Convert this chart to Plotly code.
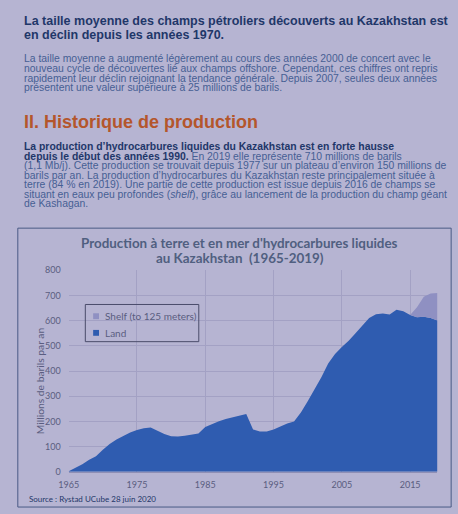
import plotly.graph_objects as go

W, H = 458, 514

years = list(range(1965, 2020))
land = [2, 15, 30, 48, 62, 88, 110, 128, 143, 156,
        166, 173, 176, 162, 150, 141, 140, 143, 147, 152,
        178, 190, 201, 210, 216, 224, 229, 168, 160, 160,
        168, 180, 192, 200, 235, 280, 325, 375, 430, 468,
        495, 520, 550, 580, 610, 625, 628, 624, 643, 637,
        622, 613, 615, 610, 600]
shelf = [0] * 51 + [40, 80, 98, 110]
x_ticks = [1965, 1975, 1985, 1995, 2005, 2015]

# text lines: list of segments (text, bold, italic)
title_lines = [[("La taille moyenne des champs pétroliers découverts au Kazakhstan est", 1, 0)],
               [("en déclin depuis les années 1970.", 1, 0)]]
para1_lines = [
    [("La taille moyenne a augmenté légèrement au cours des années 2000 de concert avec le", 0, 0)],
    [("nouveau cycle de découvertes lié aux champs offshore. Cependant, ces chiffres ont repris", 0, 0)],
    [("rapidement leur déclin rejoignant la tendance générale. Depuis 2007, seules deux années", 0, 0)],
    [("présentent une valeur supérieure à 25 millions de barils.", 0, 0)],
]
heading = "II. Historique de production"
para2_lines = [
    [("La production d’hydrocarbures liquides du Kazakhstan est en forte hausse", 1, 0)],
    [("depuis le début des années 1990.", 1, 0), (" En 2019 elle représente 710 millions de barils", 0, 0)],
    [("(1,1 Mb/j). Cette production se trouvait depuis 1977 sur un plateau d’environ 150 millions de", 0, 0)],
    [("barils par an. La production d’hydrocarbures du Kazakhstan reste principalement située à", 0, 0)],
    [("terre (84 % en 2019). Une partie de cette production est issue depuis 2016 de champs se", 0, 0)],
    [("situant en eaux peu profondes (", 0, 0), ("shelf", 0, 1),
     ("), grâce au lancement de la production du champ géant", 0, 0)],
    [("de Kashagan.", 0, 0)],
]
chart_title = ["Production à terre et en mer d'hydrocarbures liquides",
               "au Kazakhstan  (1965-2019)"]
y_title = "Millions de barils par an"
source = "Source : Rystad UCube 28 juin 2020"
legend_names = ["Shelf (to 125 meters)", "Land"]

BG = "#b6b4d2"
LAND = "#2f5cb0"
SHELF = "#8f90c2"
NAVY = "#1f3769"
BODY = "#465f94"
GREY = "#5a5d80"
BODYFONT = "Liberation Sans, Arial, sans-serif"
CHARTFONT = "Lato, sans-serif"

# Arial/Helvetica advance widths (1/1000 em) used to keep lines inside the page
REG = dict(zip("abcdefghijklmnopqrstuvwxyz",
               [556, 556, 500, 556, 556, 278, 556, 556, 222, 222, 500, 222, 833,
                556, 556, 556, 556, 333, 500, 278, 556, 500, 722, 500, 500, 500]))
REG.update(zip("ABCDEFGHIJKLMNOPQRSTUVWXYZ",
               [667, 667, 722, 722, 667, 611, 778, 722, 278, 500, 667, 556, 833,
                722, 778, 667, 778, 722, 667, 611, 722, 667, 944, 667, 667, 611]))
BLD = dict(zip("abcdefghijklmnopqrstuvwxyz",
               [556, 611, 556, 611, 556, 333, 611, 611, 278, 278, 556, 278, 889,
                611, 611, 611, 611, 389, 556, 333, 611, 556, 778, 556, 556, 500]))
BLD.update(zip("ABCDEFGHIJKLMNOPQRSTUVWXYZ",
               [722, 722, 722, 722, 667, 611, 778, 722, 278, 556, 722, 611, 833,
                722, 778, 667, 778, 722, 667, 611, 722, 667, 944, 667, 667, 611]))
for tbl, apo in ((REG, 222), (BLD, 278)):
    for d in "0123456789":
        tbl[d] = 556
    tbl.update({" ": 278, ".": 278, ",": 278, "(": 333, ")": 333, "’": apo,
                "%": 889, "/": 278, "-": 333})
ACC = {"é": "e", "è": "e", "ê": "e", "à": "a", "â": "a", "ç": "c"}


def line_em(segs):
    tot = 0
    for t, b, i in segs:
        tbl = BLD if b else REG
        tot += sum(tbl.get(ACC.get(c, c), 556) for c in t)
    return tot / 1000.0


def px(x):
    return x / W


def py(y):
    return 1 - y / H


ann = []


def add_block(lines, x0, x1, ys, base, color_reg, color_bold):
    for segs, y in zip(lines, ys):
        size = min(base, (x1 - x0) / line_em(segs))
        html = ""
        for t, b, it in segs:
            s = t
            if b:
                s = "<span style='fill:%s'>%s</span>" % (color_bold, s)
            if it:
                s = "<i>" + s + "</i>"
            if b:
                s = "<b>" + s + "</b>"
            html += s
        ann.append(dict(x=px(x0), y=py(y), text=html, align="left",
                        font=dict(family=BODYFONT, size=round(size, 2), color=color_reg)))


add_block(title_lines, 12, 446, [15, 29.3], 12.5, NAVY, NAVY)
add_block(para1_lines, 12, 442, [53.3, 63.5, 73.8, 83.5], 10.4, BODY, NAVY)
add_block([[(heading, 1, 0)]], 12, 260, [118.3], 18, "#b4562c", "#b4562c")
add_block(para2_lines, 12, 446, [143.3, 153.3, 163.2, 172.9, 182.7, 192.6, 202], 10.4, BODY, NAVY)

fig = go.Figure()
fig.add_trace(go.Scatter(x=years, y=land, mode="lines", stackgroup="one",
                         line=dict(width=0, color=LAND), fillcolor=LAND,
                         name=legend_names[1], showlegend=False, hoverinfo="skip"))
fig.add_trace(go.Scatter(x=years, y=shelf, mode="lines", stackgroup="one",
                         line=dict(width=0, color=SHELF), fillcolor=SHELF,
                         name=legend_names[0], showlegend=False, hoverinfo="skip"))

for i, t in enumerate(chart_title):
    ann.append(dict(x=px(235), y=py(242 + 16 * i), text="<b>" + t + "</b>",
                    xanchor="center",
                    font=dict(family=CHARTFONT, size=13.4, color="#505f80")))
ann.append(dict(x=px(30), y=py(383), text=y_title, textangle=-90, xanchor="center",
                font=dict(family=CHARTFONT, size=10.3, color=GREY)))
ann.append(dict(x=px(17), y=py(504), text=source,
                font=dict(family=CHARTFONT, size=8, color=NAVY)))
ann.append(dict(x=px(95), y=py(317), text=legend_names[0],
                font=dict(family=CHARTFONT, size=10, color=GREY)))
ann.append(dict(x=px(95), y=py(334), text=legend_names[1],
                font=dict(family=CHARTFONT, size=10, color=GREY)))
for a in ann:
    a.setdefault("xref", "paper")
    a.setdefault("yref", "paper")
    a.setdefault("xanchor", "left")
    a.setdefault("yanchor", "middle")
    a.setdefault("showarrow", False)

shapes = [
    dict(type="rect", xref="paper", yref="paper", x0=px(8), x1=px(451), y0=py(512), y1=py(227),
         line=dict(color="#4a5a85", width=1)),
    dict(type="rect", xref="paper", yref="paper", x0=px(77), x1=px(193), y0=py(343), y1=py(305),
         line=dict(color="#4a4c6a", width=1)),
    dict(type="rect", xref="paper", yref="paper", x0=px(85), x1=px(91), y0=py(320), y1=py(314),
         line=dict(width=0), fillcolor=SHELF),
    dict(type="rect", xref="paper", yref="paper", x0=px(85), x1=px(91), y0=py(337), y1=py(331),
         line=dict(width=0), fillcolor=LAND),
]

fig.update_layout(
    width=W, height=H,
    margin=dict(l=0, r=0, t=0, b=0),
    paper_bgcolor=BG, plot_bgcolor=BG,
    annotations=ann, shapes=shapes,
    xaxis=dict(domain=[px(60), px(437)], range=[1965, 2019], tickvals=x_ticks,
               showgrid=True, gridcolor="#a3a1c4", gridwidth=1, zeroline=False,
               showline=True, linecolor="#8f8fb5", ticks="",
               tickfont=dict(family=CHARTFONT, size=9, color=GREY),
               ticklabelstandoff=4),
    yaxis=dict(domain=[py(476), py(270)], range=[0, 800], dtick=100,
               showgrid=True, gridcolor="#a3a1c4", gridwidth=1, zeroline=False,
               showline=False, ticks="",
               tickfont=dict(family=CHARTFONT, size=9, color=GREY),
               ticklabelstandoff=7),
)

fig.write_html("out.html", config={"displayModeBar": False},
               post_script="document.body.style.margin='0px';"
                           "document.body.style.background='%s';" % BG)
